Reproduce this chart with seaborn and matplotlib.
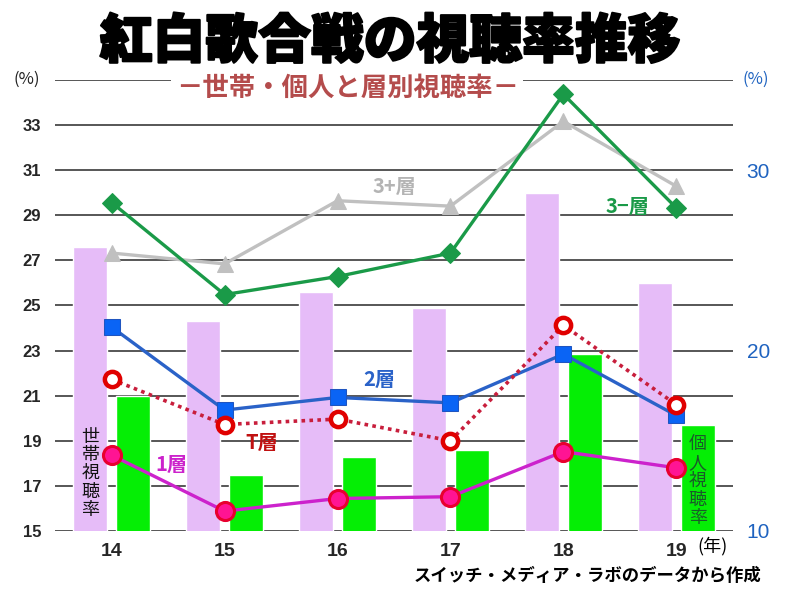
import numpy as np
import pandas as pd
import matplotlib
matplotlib.use('Agg')
import matplotlib.pyplot as plt
import matplotlib.patheffects as pe
import seaborn as sns

years = ["14", "15", "16", "17", "18", "19"]
household = [27.6, 24.3, 25.6, 24.9, 30.0, 26.0]   # 世帯視聴率 (left axis)
personal = [17.5, 13.1, 14.1, 14.5, 19.8, 15.9]    # 個人視聴率 (right axis)

layer_3plus = [25.4, 24.8, 28.3, 28.0, 32.7, 29.1]
layer_3minus = [28.2, 23.1, 24.1, 25.4, 34.2, 27.9]
layer_2 = [21.3, 16.7, 17.4, 17.1, 19.8, 16.4]
layer_T = [18.4, 15.9, 16.2, 15.0, 21.4, 17.0]
layer_1 = [14.2, 11.1, 11.8, 11.9, 14.4, 13.5]

left_ticks = [15, 17, 19, 21, 23, 25, 27, 29, 31, 33]
right_ticks = [10, 20, 30]

sns.set_style("white")
plt.rcParams['font.family'] = ['Noto Sans CJK JP', 'DejaVu Sans']

kinds = ["世帯", "個人"]
df_h = pd.DataFrame({"year": years, "val": household, "kind": "世帯"})
df_p = pd.DataFrame({"year": years, "val": personal, "kind": "個人"})
pal = {"世帯": "#e6bcf8", "個人": "#05ee05"}

fig = plt.figure(figsize=(8, 6), dpi=100)
ax = fig.add_axes([0.069, 0.115, 0.847, 0.752])

sns.barplot(data=df_h, x="year", y="val", hue="kind", hue_order=kinds, order=years,
            palette=pal, saturation=1, width=0.76, gap=0.22, dodge=True,
            legend=False, ax=ax)
ax.set_xlim(-0.5, 5.5)
ax.set_ylim(15, 35)
ax.set_yticks(left_ticks + [35])
ax.set_yticklabels([str(t) for t in left_ticks] + [""], fontsize=12, fontweight="bold",
                   family=["Liberation Sans Narrow", "Liberation Sans"])
ax.grid(axis="y", color="#3a3a3a", linewidth=1.2)
ax.set_axisbelow(True)
ax.tick_params(axis="y", length=0, pad=10)
ax.tick_params(axis="x", length=0, pad=9)
ax.set_xticks(range(len(years)))
ax.set_xticklabels(years, fontsize=14, fontweight="bold", family="Liberation Sans")
ax.set_xlabel("")
ax.set_ylabel("")
for s in ax.spines.values():
    s.set_visible(False)

ax2 = ax.twinx()
sns.barplot(data=df_p, x="year", y="val", hue="kind", hue_order=kinds, order=years,
            palette=pal, saturation=1, width=0.76, gap=0.22, dodge=True,
            legend=False, ax=ax2)
ax2.set_ylim(10, 35)
ax2.set_xlim(-0.5, 5.5)
ax2.set_yticks(right_ticks)
ax2.set_yticklabels([str(t) for t in right_ticks], fontsize=15, color="#1f63c0",
                    family="Liberation Sans")
ax2.tick_params(axis="y", length=0, pad=10)
ax2.set_ylabel("")
ax2.set_xlabel("")
for s in ax2.spines.values():
    s.set_visible(False)

xi = np.arange(len(years))
sns.lineplot(x=xi, y=layer_3plus, color="#c0c0c0", linewidth=2.4, marker="^",
             markersize=12, markeredgecolor="#c0c0c0", ax=ax2)
sns.lineplot(x=xi, y=layer_3minus, color="#1a9a48", linewidth=2.4, marker="D",
             markersize=10, markeredgecolor="#1a9a48", ax=ax2)
sns.lineplot(x=xi, y=layer_2, color="#2a62c8", linewidth=2.4, marker="s",
             markersize=12, markerfacecolor="#0a64f5", markeredgecolor="#1f55c0", ax=ax2)
sns.lineplot(x=xi, y=layer_T, color="#c81e3c", linewidth=2.6, linestyle=(0, (1, 1.2)),
             marker="o", markersize=11, markerfacecolor="white",
             markeredgecolor="#e00000", markeredgewidth=3.2, ax=ax2)
sns.lineplot(x=xi, y=layer_1, color="#cc22cc", linewidth=2.4, marker="o",
             markersize=13, markerfacecolor="#ff1493", markeredgecolor="#e8002e",
             markeredgewidth=2.2, ax=ax2)

# series labels
lab = dict(fontsize=14.5, fontweight="bold", ha="center", va="center")
ax2.text(2.5, 29.1, "3+層", color="#b4b4b4", **lab)
ax2.text(4.57, 27.96, "3−層", color="#1a9a48", **lab)
ax2.text(2.37, 18.4, "2層", color="#2a62c8", **lab)
ax2.text(1.33, 14.9, "T層", color="#c01010", **lab)
ax2.text(0.53, 13.7, "1層", color="#cc22cc", **lab)
ax2.text(-0.19, 13.2, "世\n帯\n視\n聴\n率", color="#111111", fontsize=13,
         ha="center", va="center", linespacing=1.02)
ax2.text(5.19, 12.75, "個\n人\n視\n聴\n率", color="#1a5a2a", fontsize=13,
         ha="center", va="center", linespacing=1.02)

# titles and other text
t = fig.text(0.4875, 0.93, "紅白歌合戦の視聴率推移", fontsize=38, fontweight="black",
             ha="center", va="center", color="black")
t.set_path_effects([pe.withStroke(linewidth=1.5, foreground="black")])
fig.text(0.434, 0.853, "－世帯・個人と層別視聴率－", fontsize=19, fontweight="bold",
         ha="center", va="center", color="#b44c4c",
         bbox=dict(facecolor="white", edgecolor="none", pad=3))
fig.text(0.033, 0.868, "(%)", fontsize=12, ha="center", va="center", color="#222222",
         bbox=dict(facecolor="white", edgecolor="none", pad=1))
fig.text(0.945, 0.868, "(%)", fontsize=12, ha="center", va="center", color="#1f63c0")
fig.text(0.891, 0.09, "(年)", fontsize=13, ha="center", va="center", color="black")
fig.text(0.952, 0.04, "スイッチ・メディア・ラボのデータから作成", fontsize=12.5,
         fontweight="bold", ha="right", va="center", color="black")

fig.savefig("out.png", dpi=100)
